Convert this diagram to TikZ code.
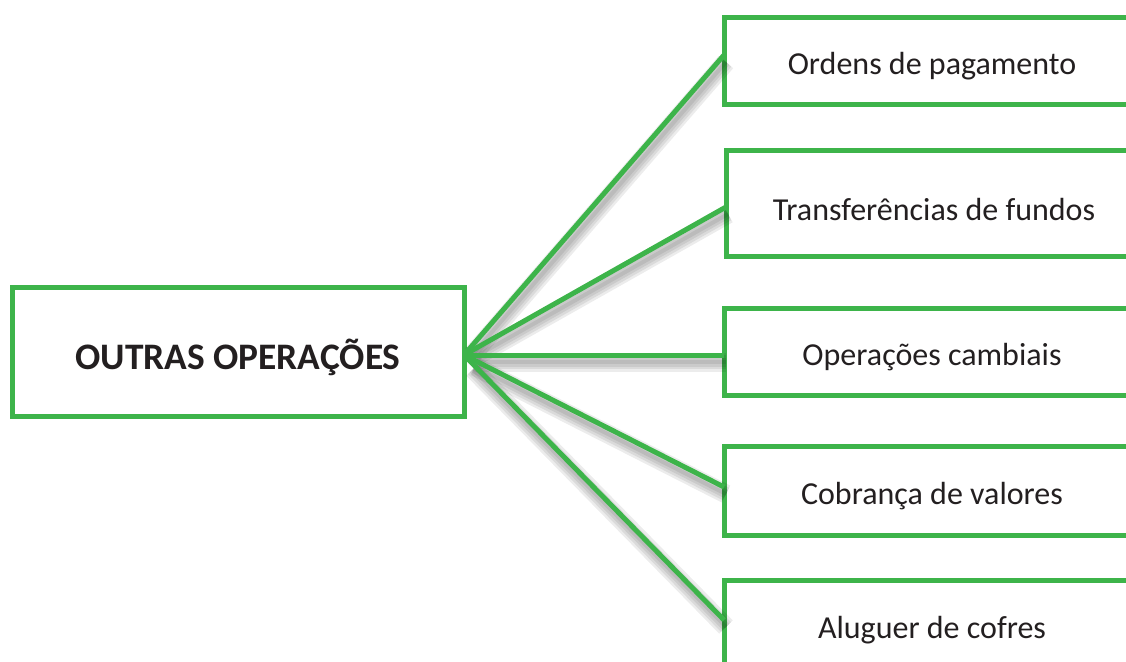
\documentclass[tikz,border=0pt]{standalone}
\usepackage{fontspec}
\setmainfont{Carlito}
\definecolor{leaf}{RGB}{61,180,74}
\definecolor{ink}{RGB}{35,31,32}
% set a label a little below the middle of its box
\newcommand\lowtext[1]{\raisebox{-3pt}[\height][\depth]{#1}}
\begin{document}
\begin{tikzpicture}[x=0.5pt,y=-0.5pt,
  box/.style={draw=leaf, line width=2.5pt, fill=white, rectangle,
              outer sep=0pt, inner sep=0pt, text=ink},
  item/.style={box, minimum width=208pt, font=\fontsize{16}{19}\selectfont},
  link/.style={draw=leaf, line width=2.5pt},
  shade/.style={draw=black, line width=#1, opacity=0.075, line cap=butt}
]
\useasboundingbox (0,0) rectangle (1126,661);
\clip (0,0) rectangle (1126,661);

% central box
\node[box, minimum width=226pt, minimum height=64.5pt,
      font=\bfseries\fontsize{18.7}{22}\selectfont] (main) at (238,351.5) {\lowtext{OUTRAS OPERAÇÕES}};

% branch boxes (open to the right edge of the page)
\node[item, minimum height=43.5pt] (b1) at (932,60.5)  {\lowtext{Ordens de pagamento}};
\node[item, minimum height=53pt]   (b2) at (934,203)   {\lowtext{Transferências de fundos}};
\node[item, minimum height=43.5pt] (b3) at (932,351.5) {\lowtext{Operações cambiais}};
\node[item, minimum height=44.5pt] (b4) at (932,490.5) {\lowtext{Cobrança de valores}};
\node[item, minimum height=44pt]   (b5) at (932,624)   {\lowtext{Aluguer de cofres}};

\coordinate (hub) at ([yshift=-1.75pt]main.east);

% soft shadows under the connectors
\foreach \b/\s in {b1/2.75pt, b2/-2pt, b3/-1.75pt, b4/1.75pt, b5/2pt}{
  \foreach \w in {2pt,4.5pt,7pt,9.5pt}{
    \draw[shade=\w, shorten <=5pt, transform canvas={xshift=1pt,yshift=-3.5pt}]
      (hub) -- ([yshift=\s]\b.west);
  }
}

% connectors
\foreach \b/\s in {b1/2.75pt, b2/-2pt, b3/-1.75pt, b4/1.75pt, b5/2pt}{
  \draw[link] (hub) -- ([yshift=\s]\b.west);
}
\end{tikzpicture}
\end{document}
